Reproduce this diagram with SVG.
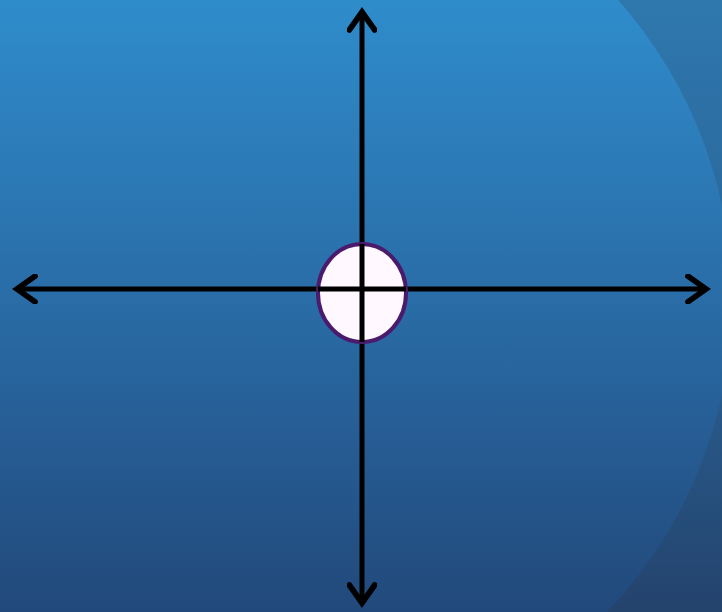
<svg xmlns="http://www.w3.org/2000/svg" width="722" height="612" viewBox="0 0 722 612">
<defs>
<linearGradient id="bg" x1="0" y1="0" x2="0" y2="1">
<stop offset="0" stop-color="#2F8CCB"/>
<stop offset="0.45" stop-color="#2A6FAA"/>
<stop offset="1" stop-color="#22497B"/>
</linearGradient>
<linearGradient id="bg2" x1="0" y1="0" x2="0" y2="1">
<stop offset="0" stop-color="#2E78AE"/>
<stop offset="0.5" stop-color="#2A6396"/>
<stop offset="1" stop-color="#24436D"/>
</linearGradient>
<clipPath id="cp"><circle cx="280" cy="300" r="452"/></clipPath>
<marker id="ah" viewBox="0 0 20 20" refX="15" refY="10" markerWidth="6" markerHeight="6" orient="auto" markerUnits="strokeWidth">
<path d="M3,1.5 L15,10 L3,18.5" fill="none" stroke="#000" stroke-width="3.8" stroke-linecap="round" stroke-linejoin="miter"/>
</marker>
<style>
.ax{stroke:#000;stroke-width:5;fill:none;marker-end:url(#ah)}
</style>
</defs>
<rect width="722" height="612" fill="url(#bg2)"/>
<g clip-path="url(#cp)"><rect width="722" height="612" fill="url(#bg)"/></g>
<g id="connectors">
<line class="ax" x1="362" y1="293" x2="362" y2="12"/>
<line class="ax" x1="362" y1="293" x2="362" y2="603"/>
<line class="ax" x1="362" y1="289" x2="17" y2="289"/>
<line class="ax" x1="362" y1="289" x2="706" y2="289"/>
</g>
<g id="origin">
<ellipse cx="362" cy="293" rx="44" ry="49" fill="#FFF8FE" stroke="#4A1B6C" stroke-width="4"/>
<line x1="362" y1="244" x2="362" y2="342" stroke="#000" stroke-width="5"/>
<line x1="318" y1="289" x2="406" y2="289" stroke="#000" stroke-width="5"/>
</g>
</svg>
